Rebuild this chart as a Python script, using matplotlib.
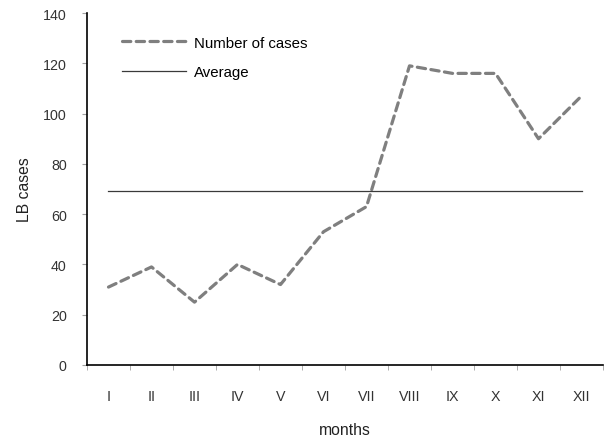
import numpy as np
import matplotlib.pyplot as plt

plt.rcParams['font.family'] = ['Liberation Sans', 'DejaVu Sans']

# monthly LB cases
months = ['I', 'II', 'III', 'IV', 'V', 'VI', 'VII', 'VIII', 'IX', 'X', 'XI', 'XII']
cases = [31, 39, 25, 40, 32, 53, 63, 119, 116, 116, 90, 107]
average = 69.3

fig = plt.figure(figsize=(6.05, 4.39), dpi=100)
ax = fig.add_axes([0.1438, 0.1663, 0.8529, 0.8017])

x = np.arange(len(months))
ax.plot(x, cases, color='#7f7f7f', lw=2.3, ls=(0, (2.6, 1.7)),
        dash_capstyle='round', label='Number of cases')
ax.plot(x, [average] * len(months), color='#3a3a3a', lw=0.9, label='Average')

ax.set_xlim(-0.5, len(months) - 0.5)
ax.set_ylim(0, 140)
ax.set_yticks(range(0, 141, 20))
ax.set_xticks(x)
ax.set_xticklabels(months)
ax.set_xticks(np.arange(-0.5, len(months), 1), minor=True)
ax.tick_params(axis='x', which='major', length=0, pad=17)
ax.tick_params(axis='x', which='minor', length=3.6, color='#a0a0a0')
ax.tick_params(axis='y', length=3.6, color='#a0a0a0', pad=11)
ax.tick_params(labelsize=10.3, labelcolor='#333333')

for side in ('top', 'right'):
    ax.spines[side].set_visible(False)
for side in ('left', 'bottom'):
    ax.spines[side].set_linewidth(1.2)

ax.set_xlabel('months', fontsize=11.3, color='#222222', labelpad=14)
ax.set_ylabel('LB cases', fontsize=11.3, color='#222222', labelpad=8)

ax.legend(loc='upper left', bbox_to_anchor=(0.056, 0.953), frameon=False,
          handlelength=4.3, handletextpad=0.5, labelspacing=1.05, fontsize=10.8,
          borderaxespad=0)

fig.savefig('out.png', dpi=100)
